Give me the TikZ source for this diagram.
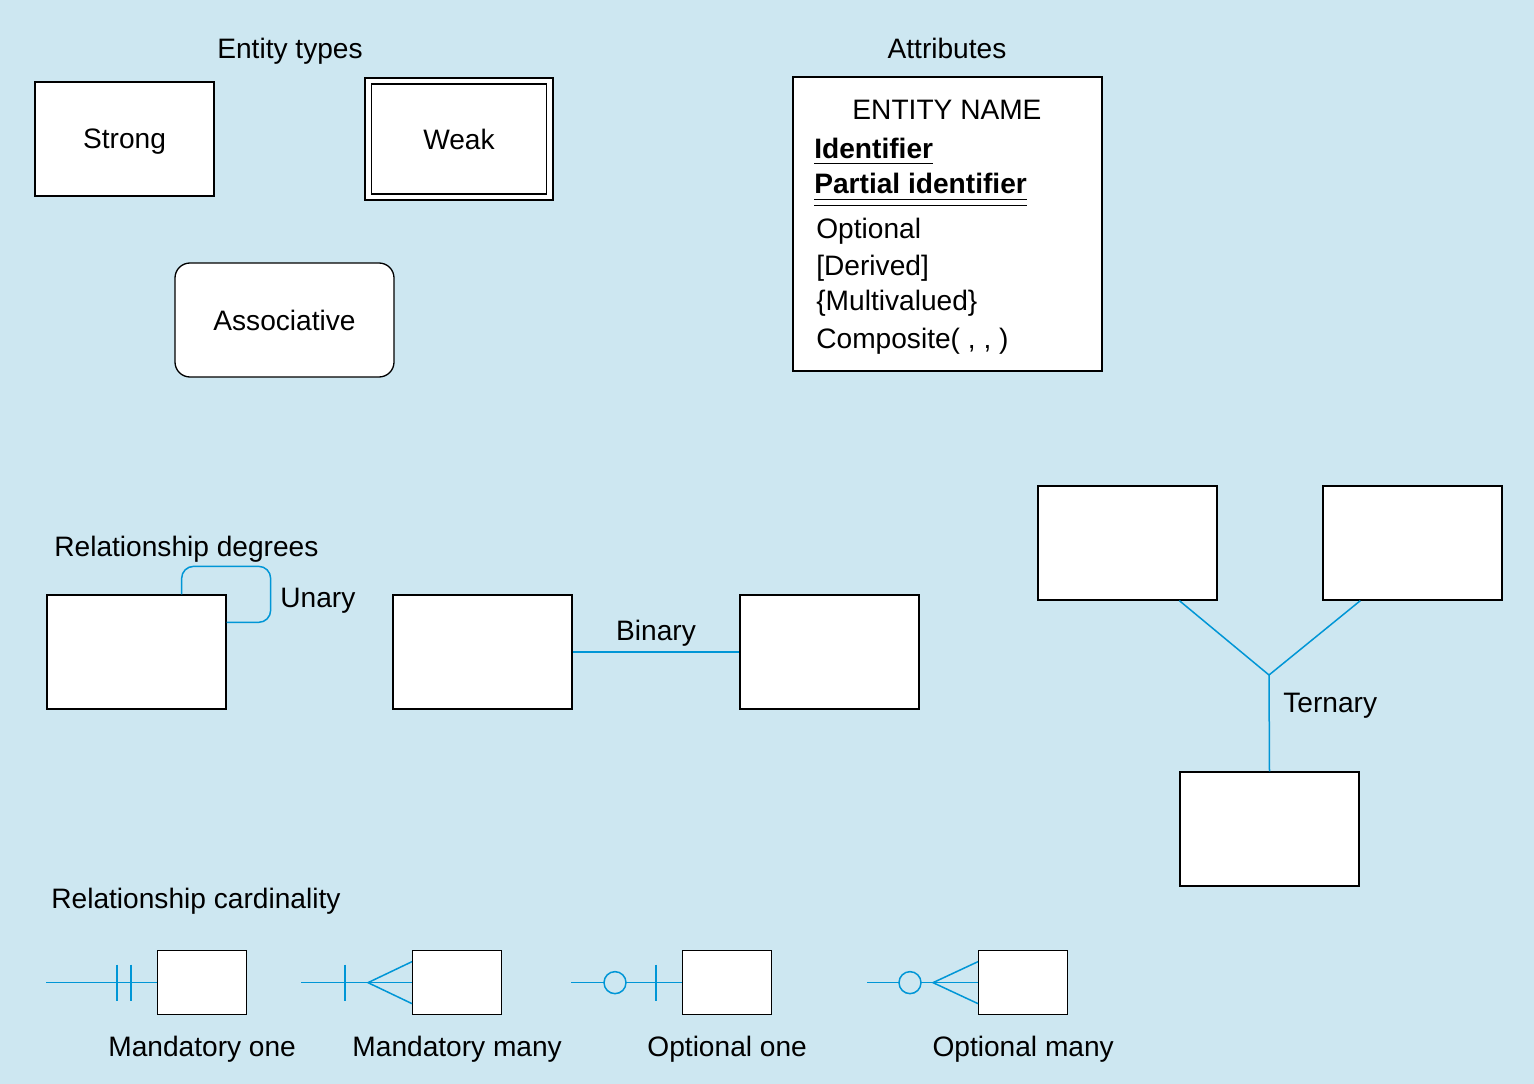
\documentclass[tikz,border=0pt]{standalone}
\usepackage{fontspec}
\setmainfont{Liberation Sans}
\usetikzlibrary{calc}
\definecolor{bgblue}{RGB}{205,231,241}
\definecolor{relblue}{RGB}{0,150,214}
\tikzstyle{entity}=[draw, fill=white, line width=0.26mm, minimum width=35.8mm, minimum height=22.8mm, inner sep=0pt]
\tikzstyle{card}=[entity, minimum width=17.8mm, minimum height=12.8mm]
\tikzstyle{rel}=[draw=relblue, line width=0.3mm]
\tikzstyle{attr}=[anchor=base west, inner sep=0pt]
\tikzstyle{lab}=[anchor=west, inner sep=0pt]

\begin{document}
\begin{tikzpicture}[x=0.2mm, y=-0.2mm, font=\fontsize{16pt}{19pt}\selectfont]
\fill[bgblue] (0,0) rectangle (1534,1084);
% Entity types
\node (enttitle) at (290,51) {Entity types};
\node[entity] (strong) at (124.5,139) {};
\node (stronglab) at (124.5,142) {Strong};
\node[entity, minimum width=37.6mm, minimum height=24.4mm] (weak) at (459,139) {};
\node[entity, minimum width=35mm, minimum height=22mm] (weakin) at (weak) {Weak};
\node[entity, rounded corners=3mm, minimum width=43.8mm] (assoc) at (284.5,320) {Associative};
%
% Attributes
\node (attrtitle) at (947,48) {Attributes};
\node[entity, minimum width=61.8mm, minimum height=58.8mm] (attrbox) at (947.5,224) {};
\node[anchor=base, inner sep=0pt] (ename) at (947,120) {ENTITY NAME};
\node[attr] (ident) at (814,158) {\bfseries Identifier};
\node[attr] (partial) at (814,194) {\bfseries Partial identifier};
\node[attr] (optional) at (816,238) {Optional};
\node[attr] (derived) at (816,275) {[Derived]};
\node[attr] (multi) at (816,311) {\{Multivalued\}};
\node[attr] (compos) at (816,348) {Composite( , , )};
\draw[line width=0.2mm] ($(ident.base west)+(0,6)$) -- ($(ident.base east)+(0,6)$);
\draw[line width=0.2mm] ($(partial.base west)+(0,6)$) -- ($(partial.base east)+(0,6)$);
\draw[line width=0.2mm] ($(partial.base west)+(0,12)$) -- ($(partial.base east)+(0,12)$);
%
% Relationship degrees
\node[lab] (degtitle) at (54,549) {Relationship degrees};
\node[entity] (unary) at (136.5,652) {};
\draw[rel, rounded corners=2.4mm] ($(unary.north east)+(-45,0)$) |- ++(89,-28)
  |- ($(unary.north east)+(0,28)$);
\node[lab] (unarylab) at (280,601) {Unary};
%
\node[entity] (bina) at (482.5,652) {};
\node[entity] (binb) at (829.5,652) {};
\draw[rel] (bina) -- (binb);
\node (binlab) at (656,633) {Binary};
%
\node[entity] (tera) at (1127.5,543) {};
\node[entity] (terb) at (1412.5,543) {};
\node[entity] (terc) at (1269.5,829) {};
\coordinate (terj) at (1269,675);
\draw[rel] ($(tera.south west)+(142,0)$) -- (terj);
\draw[rel] ($(terb.south west)+(38,0)$) -- (terj);
\draw[rel] (terc.north) -- (terj);
\node[lab] (terlab) at (1283,706) {Ternary};
%
% Relationship cardinality
\node[lab] (cardtitle) at (51,901) {Relationship cardinality};
\foreach \x/\n/\lab in {157/ca/Mandatory one, 412/cb/Mandatory many,
    682/cc/Optional one, 978/cd/Optional many}{
  \node[card, anchor=north west] (\n) at (\x,950) {};
  \coordinate (\n s) at ($(\n.west)+(-111,0)$);
  \draw[rel] (\n s) -- (\n.west);
  \node (\n lab) at ($(\n)+(0,67)$) {\lab};
}
% Symbols
\draw[rel] ($(ca.west)+(-40,-18)$) -- ++(0,36);
\draw[rel] ($(ca.west)+(-26,-18)$) -- ++(0,36);
\draw[rel] ($(cb.west)+(-67,-18)$) -- ++(0,36);
\draw[rel] ($(cb.west)+(0,-21)$) -- ++(-44,21) -- ++(44,21);
\draw[rel, fill=bgblue] ($(cc.west)+(-67,0)$) circle[radius=11];
\draw[rel] ($(cc.west)+(-26,-18)$) -- ++(0,36);
\draw[rel, fill=bgblue] ($(cd.west)+(-68,0)$) circle[radius=11];
\draw[rel] ($(cd.west)+(0,-21)$) -- ++(-45,21) -- ++(45,21);
\end{tikzpicture}
\end{document}
